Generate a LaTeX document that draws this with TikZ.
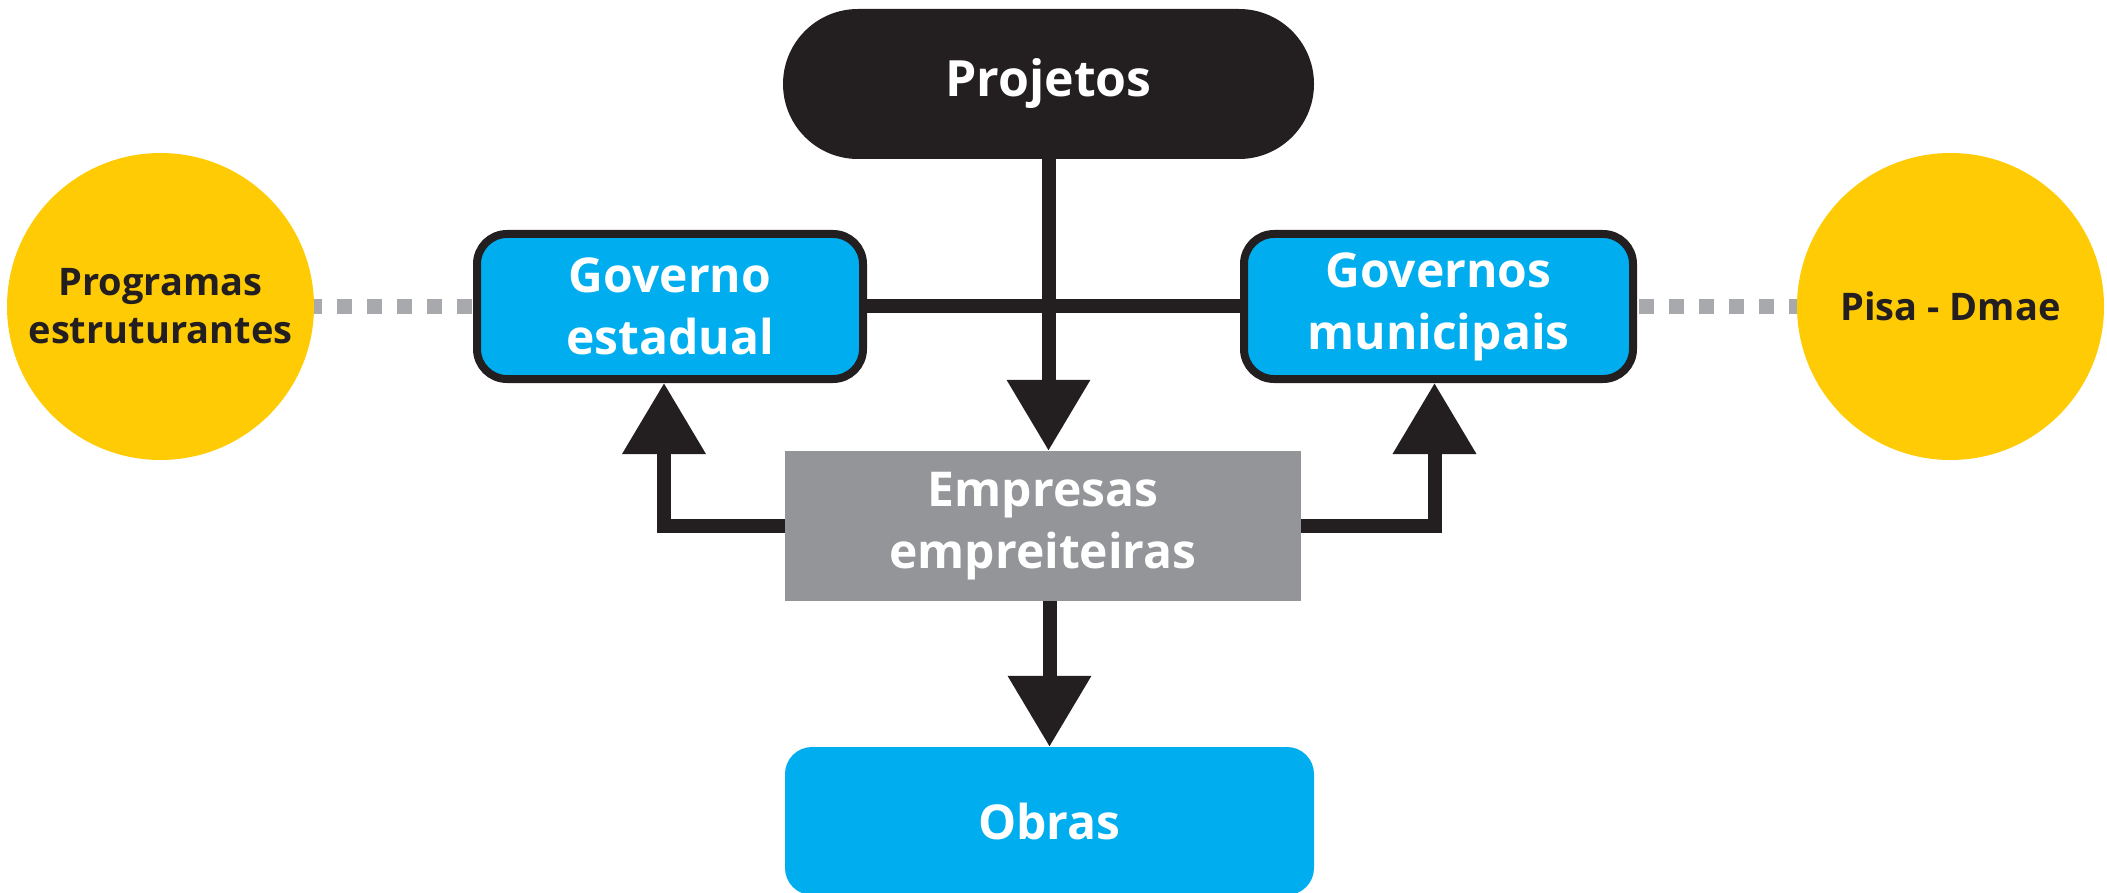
\documentclass[tikz,border=0pt]{standalone}
\usepackage{fontspec}
\setmainfont{Open Sans}
\usetikzlibrary{arrows.meta}
\definecolor{ink}{RGB}{35,31,32}
\definecolor{cyanb}{RGB}{0,174,239}
\definecolor{yel}{RGB}{255,203,5}
\definecolor{grayb}{RGB}{147,149,152}
\definecolor{grayd}{RGB}{167,169,172}
\tikzset{
  base/.style={inner sep=0pt, align=center, font=\bfseries\fontsize{48}{62}\selectfont},
  projbox/.style={base, fill=ink, text=white, rounded corners=75pt, minimum width=531pt, minimum height=150pt, font=\bfseries\fontsize{50}{62}\selectfont},
  govbox/.style={base, draw=ink, line width=8pt, fill=cyanb, text=white, rounded corners=30pt, minimum height=145pt},
  empbox/.style={base, fill=grayb, text=white, minimum width=516pt, minimum height=150pt},
  obrasbox/.style={base, fill=cyanb, text=white, rounded corners=27pt, minimum width=529pt, minimum height=148pt},
  ybubble/.style={circle, fill=yel, text=ink, inner sep=0pt, minimum size=307pt, align=center, font=\bfseries\fontsize{38}{48}\selectfont},
  conn/.style={draw=ink, line width=14pt},
  arr/.style={conn, -{Triangle[length=71pt,width=80pt]}},
  dotline/.style={draw=grayd, line width=15pt, dash pattern=on 15pt off 15pt, dash phase=7pt}
}
\begin{document}
\begin{tikzpicture}[x=1pt,y=-1pt]
\useasboundingbox (0,0) rectangle (2107,893);
% nodes
\node[projbox] (proj) at (1048.5,84) {Projetos};
\node[govbox, minimum width=386pt] (ge) at (670,306.5) {Governo\\estadual};
\node[govbox, minimum width=389pt] (gm) at (1438.5,306.5) {Governos\\municipais};
\node[empbox] (emp) at (1043,526) {Empresas\\empreiteiras};
\node[obrasbox] (obras) at (1049.5,821) {Obras};
\node[ybubble] (lc) at (160.5,306.5) {Programas\\estruturantes};
\node[ybubble] (rc) at (1950.5,306.5) {Pisa - Dmae};
% dotted links
\draw[dotline] (lc.east) -- (ge.west);
\draw[dotline] (rc.west) -- (gm.east);
% government link
\draw[conn] (ge.east) -- (gm.west);
% arrows
\draw[arr] (proj.south) -- (proj.south |- emp.north);
\draw[arr] (emp.south -| obras.north) -- (obras.north);
\draw[arr] (emp.west) -| ([xshift=-6pt]ge.south);
\draw[arr] (emp.east) -| ([xshift=-4pt]gm.south);
\end{tikzpicture}
\end{document}
